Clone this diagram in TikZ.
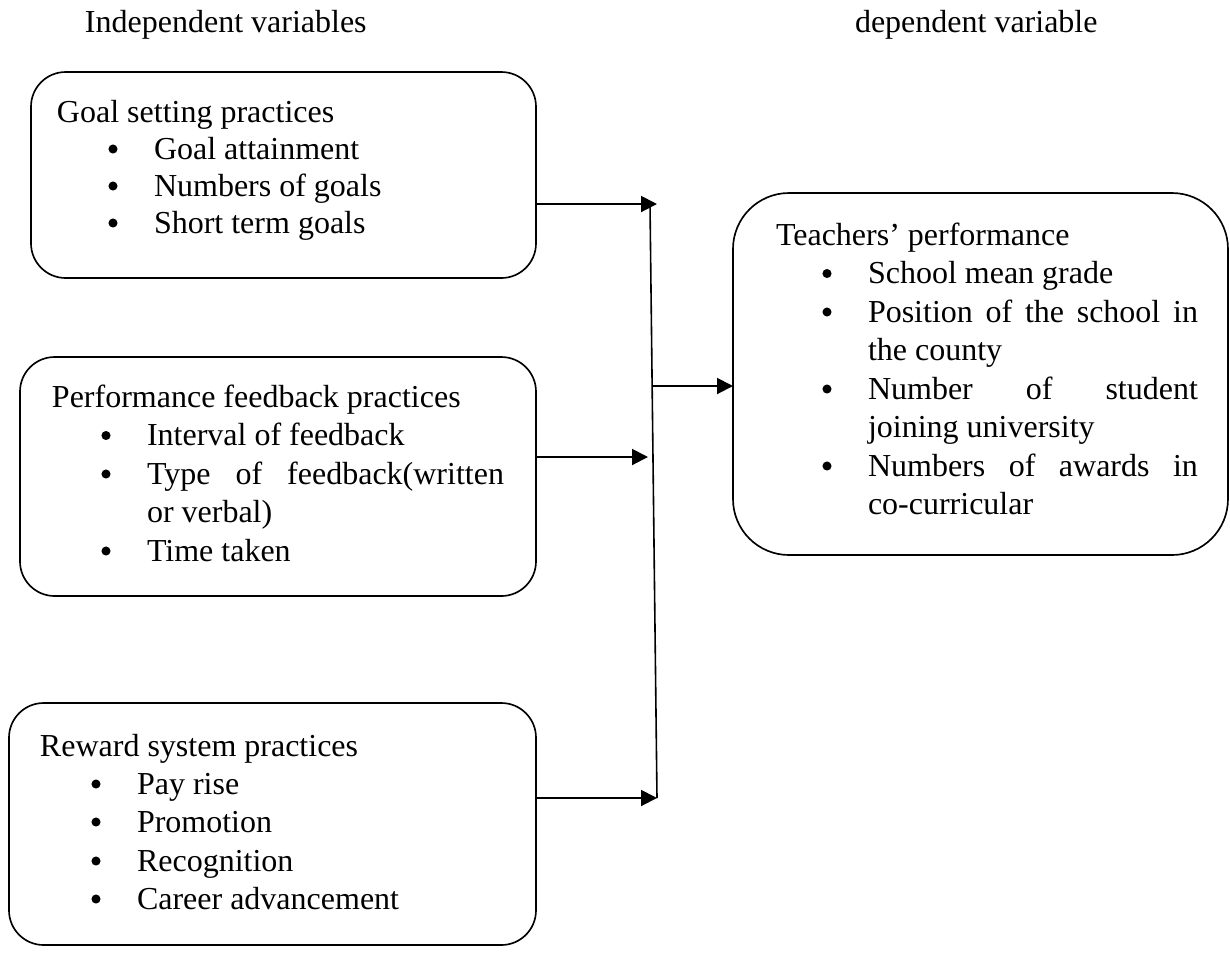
\documentclass[tikz,border=0pt]{standalone}
\usepackage{fontspec}
\setmainfont{Liberation Serif}
\usetikzlibrary{arrows.meta,calc}
\newlength\px
\setlength\px{0.375pt}
% item: name, x of text, baseline y, text
\newcommand\bitem[4]{%
  \node[txt] (#1) at (#2,#3) {#4};
  \fill (#2-41,#3-10) circle[radius=1.7pt];}
\begin{document}
\begin{tikzpicture}[x=0.375pt,y=-0.375pt,
  box/.style={draw, line width=0.62pt, rounded corners=13pt, inner sep=0pt, outer sep=0pt},
  bigbox/.style={box, rounded corners=21pt},
  txt/.style={anchor=base west, inner sep=0pt, outer sep=0pt, font=\fontsize{12}{14}\selectfont},
  arr/.style={line width=0.75pt, -{Triangle[length=6pt,width=6pt]}},
  conn/.style={line width=0.6pt},
]
\useasboundingbox (0,0) rectangle (1230,952);

% headings
\node[txt] (ti) at (85,32) {Independent variables};
\node[txt] (td) at (855,32) {dependent variable};

% boxes
\node[box, minimum width=505\px, minimum height=206\px] (b1) at (283.5,175) {};
\node[box, minimum width=516\px, minimum height=239\px] (b2) at (278,476.5) {};
\node[box, minimum width=527\px, minimum height=242\px] (b3) at (272.5,824) {};
\node[bigbox, minimum width=495\px, minimum height=362\px] (b4) at (980.5,374) {};

% box 1 text
\node[txt] (b1t) at (57,122) {Goal setting practices};
\bitem{b1a}{154}{159}{Goal attainment}
\bitem{b1b}{154}{196}{Numbers of goals}
\bitem{b1c}{154}{233}{Short term goals}

% box 2 text
\node[txt] (b2t) at (52,407) {Performance feedback practices};
\bitem{b2a}{147}{445.5}{Interval of feedback}
\bitem{b2b}{147}{484}{\makebox[357\px][s]{Type of feedback(written}}
\node[txt] (b2c) at (147,522.5) {or verbal)};
\bitem{b2d}{147}{561}{Time taken}

% box 3 text
\node[txt] (b3t) at (40,756) {Reward system practices};
\bitem{b3a}{137}{794}{Pay rise}
\bitem{b3b}{137}{832}{Promotion}
\bitem{b3c}{137}{871}{Recognition}
\bitem{b3d}{137}{909}{Career advancement}

% box 4 text
\node[txt] (b4t) at (776,245) {Teachers’ performance};
\bitem{b4a}{868}{283.5}{School mean grade}
\bitem{b4b}{868}{322}{\makebox[330\px][s]{Position of the school in}}
\node[txt] (b4c) at (868,360.5) {the county};
\bitem{b4d}{868}{399}{\makebox[330\px][s]{Number of student}}
\node[txt] (b4e) at (868,437.5) {joining university};
\bitem{b4f}{868}{476}{\makebox[330\px][s]{Numbers of awards in}}
\node[txt] (b4g) at (868,514.5) {co-curricular};

% connectors
\coordinate (vtop) at (650,204);
\coordinate (vbot) at (657,798);
\coordinate (a1) at (657,204);
\coordinate (a2) at (648,457);
\coordinate (m) at ($(vtop)!0.3064!(vbot)$);

\draw[conn] (vtop) -- (vbot);
\draw[arr] (b1.east |- a1) -- (a1);
\draw[arr] (b2.east |- a2) -- (a2);
\draw[arr] (b3.east |- vbot) -- (vbot);
\draw[arr] (m) -- (m -| b4.west);
\end{tikzpicture}
\end{document}
